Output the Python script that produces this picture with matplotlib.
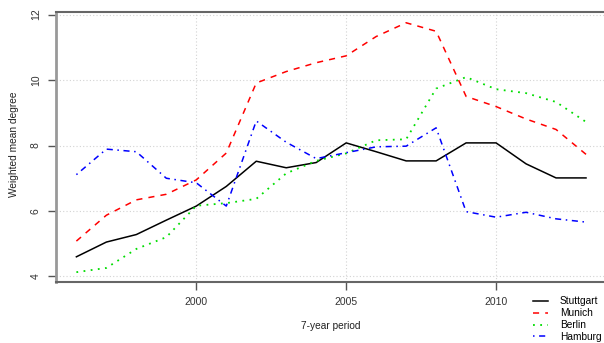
import matplotlib
matplotlib.use("Agg")
from matplotlib import pyplot as plt

years = list(range(1996, 2014))

stuttgart = [4.6, 5.05, 5.28, 5.72, 6.15, 6.75, 7.52, 7.32, 7.48, 8.08,
             7.81, 7.53, 7.53, 8.08, 8.08, 7.44, 7.01, 7.01]
munich = [5.08, 5.87, 6.34, 6.51, 6.95, 7.77, 9.91, 10.26, 10.53, 10.74,
          11.33, 11.75, 11.49, 9.5, 9.19, 8.81, 8.49, 7.73]
berlin = [4.13, 4.26, 4.84, 5.2, 6.16, 6.24, 6.37, 7.15, 7.53, 7.76,
          8.16, 8.19, 9.74, 10.09, 9.72, 9.6, 9.33, 8.72]
hamburg = [7.11, 7.89, 7.81, 7.0, 6.86, 6.15, 8.75, 8.1, 7.6, 7.78,
           7.96, 7.98, 8.54, 5.98, 5.81, 5.96, 5.76, 5.66]

city_names = ["Stuttgart", "Munich", "Berlin", "Hamburg"]
x_ticks = [2000, 2005, 2010]
y_ticks = [4, 6, 8, 10, 12]

plt.rcParams["font.family"] = ["Liberation Sans", "DejaVu Sans"]

fig = plt.figure(figsize=(6.04, 3.43), dpi=100)
# plot box runs a little past the right edge of the picture
left, right, top, bottom = 56 / 604, 606.4 / 604, 1 - 12.3 / 343, 1 - 282 / 343
ax = fig.add_axes([left, bottom, right - left, top - bottom])

for yv in y_ticks:
    ax.axhline(yv, color="#d3d3d3", linestyle=(0, (1, 2)), linewidth=0.8, zorder=0)
for xv in x_ticks:
    ax.axvline(xv, color="#d3d3d3", linestyle=(0, (1, 2)), linewidth=0.8, zorder=0)

ax.plot(years, stuttgart, color="black", linewidth=1.1, label=city_names[0])
ax.plot(years, munich, color="#ff0000", linewidth=1.1, linestyle=(0, (4, 4)), label=city_names[1])
ax.plot(years, berlin, color="#00dd00", linewidth=1.3, linestyle=(0, (1, 3)), label=city_names[2])
ax.plot(years, hamburg, color="#0000ff", linewidth=1.1, linestyle=(0, (1, 3, 4, 3)), label=city_names[3])

ax.set_xlim(1995.32, 2013.68)
ax.set_ylim(3.83, 12.07)
ax.set_xticks(x_ticks)
ax.set_yticks(y_ticks)
ax.set_yticklabels([str(v) for v in y_ticks], rotation=90, va="center")
ax.tick_params(axis="both", labelsize=7.5, colors="#333333", length=6, width=1, pad=5)
ax.tick_params(axis="x", pad=5, color="#555555")
ax.tick_params(axis="y", color="#555555")

ax.spines["left"].set_color("#999999")
ax.spines["left"].set_linewidth(2)
ax.spines["bottom"].set_color("#666666")
ax.spines["bottom"].set_linewidth(1.5)
ax.spines["top"].set_color("#666666")
ax.spines["top"].set_linewidth(1.5)
ax.spines["right"].set_visible(False)

fig.text(331 / 604, 1 - 326 / 343, "7-year period", ha="center", va="center", fontsize=7.3, color="#222222")
fig.text(14 / 604, 1 - 144 / 343, "Weighted mean degree", ha="center", va="center",
         rotation=90, fontsize=7.3, color="#222222")

fig.legend(loc="upper left", bbox_to_anchor=(533 / 604, 1 - 296.5 / 343), frameon=False,
           fontsize=7.3, handlelength=1.5, handletextpad=1.15, labelspacing=0.18, borderpad=0,
           borderaxespad=0)

fig.savefig("out.png", dpi=100)
